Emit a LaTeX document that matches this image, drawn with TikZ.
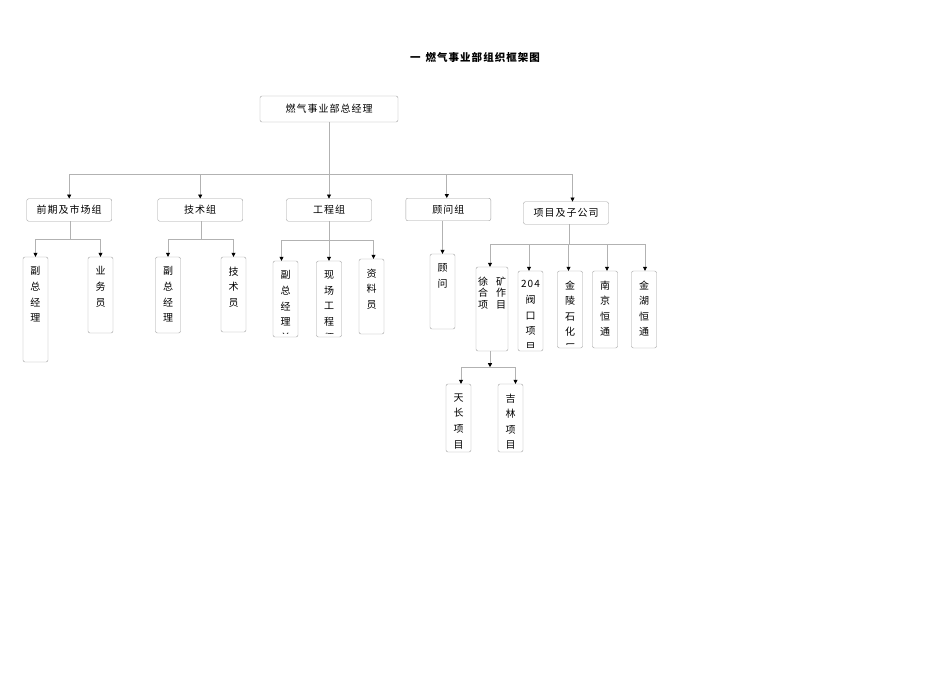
\documentclass[tikz,border=0pt]{standalone}
\usepackage{fontspec}
\setmainfont{Noto Sans CJK SC}[LetterSpace=10]
\usetikzlibrary{arrows.meta}
\tikzset{
  headbox/.style={draw=gray!75, rounded corners=2pt, minimum width=85pt,
    minimum height=22.5pt, inner sep=0pt, font=\fontsize{10}{12}\selectfont},
  colbox/.style={draw=gray!75, rounded corners=2pt, minimum width=25pt,
    inner sep=0pt},
  coltextnode/.style={draw=none, rounded corners=0pt, minimum width=0pt,
    minimum height=0pt, anchor=north, inner sep=0pt, align=center,
    font=\fontsize{10}{15.6}\selectfont},
  coltext/.style={path picture={
    \clip ([yshift=4pt]path picture bounding box.south west)
      rectangle (path picture bounding box.north east);
    \node[coltextnode] at ([yshift=-9.5pt]path picture bounding box.north) {#1};}},
  hv/.style={to path={-| (\tikztotarget)}}
}
\begin{document}
\begin{tikzpicture}[x=1pt,y=-1pt]
\useasboundingbox (0,0) rectangle (950,672);
\node[font=\fontsize{10.5}{12}\selectfont\bfseries] (title) at (475,57) {一\hspace{5pt}燃气事业部组织框架图};
\begin{scope}[every node/.style={headbox}]
    \node[minimum width=138pt, minimum height=26pt] (top) at (329,109) {燃气事业部总经理};
    \node (qq) at (69.2,210) {前期及市场组};
    \node (js) at (200.2,210) {技术组};
    \node (gc) at (329,210) {工程组};
    \node (gw) at (448.3,209.5) {顾问组};
    \node (xm) at (566,213) {项目及子公司};
\end{scope}
\begin{scope}[every node/.style={colbox}]
    \node[minimum height=105pt, coltext={副\\总\\经\\理}] (a1) at (35.5,309.5) {};
    \node[minimum height=76pt, coltext={业\\务\\员}] (a2) at (100.5,295) {};
    \node[minimum height=76pt, coltext={副\\总\\经\\理}] (b1) at (168,295) {};
    \node[minimum height=75pt, coltext={技\\术\\员}] (b2) at (233.5,294.5) {};
    \node[minimum height=76pt, coltext={副\\总\\经\\理\\兼}] (c1) at (285.5,299) {};
    \node[minimum height=76pt, coltext={现\\场\\工\\程\\师}] (c2) at (329,299) {};
    \node[minimum height=75pt, coltext={资\\料\\员}] (c3) at (371.5,296.5) {};
    \node[minimum height=75pt, coltext={顾\\问}] (d1) at (442.5,291.5) {};
    \node[minimum width=32pt, minimum height=84pt, path picture={
      \node[coltextnode, font=\fontsize{10}{11.8}\selectfont]
        at ([yshift=-9.5pt]path picture bounding box.north)
        {徐\hspace{8pt}矿\\合\hspace{8pt}作\\项\hspace{8pt}目};}] (e1) at (492,309) {};
    \node[minimum height=80pt, coltext={204\\阀\\口\\项\\目}] (e2) at (530.5,311) {};
    \node[minimum height=77pt, coltext={金\\陵\\石\\化\\厂}] (e3) at (570,309.5) {};
    \node[minimum height=77pt, coltext={南\\京\\恒\\通}] (e4) at (605,309.5) {};
    \node[minimum height=77pt, coltext={金\\湖\\恒\\通}] (e5) at (644,309.5) {};
    \node[minimum height=68pt, coltext={天\\长\\项\\目}] (f1) at (458.5,418) {};
    \node[minimum height=68pt, coltext={吉\\林\\项\\目}] (f2) at (510.5,418) {};
\end{scope}
\path (top.south) ++(0,52) coordinate (j0);
\path (qq.south) ++(0.8,17.5) coordinate (j1);
\path (js.south) ++(0.8,17.5) coordinate (j2);
\path (gc.south) ++(0,18.5) coordinate (j3);
\path ([xshift=3pt]xm.south) ++(0,20) coordinate (j5);
\path ([xshift=-2pt]e1.south) ++(0,16) coordinate (j6);
\begin{scope}[>={Triangle[black,length=4pt,width=4pt]},
              every edge/.style={draw=gray!60,line width=0.7pt}]
    % 总经理
    \path (top.south) edge (j0);
    \path [->] (j0) edge[hv] (qq.north);
    \path [->] (j0) edge[hv] (js.north);
    \path [->] (j0) edge (gc.north);
    \path [->] (j0) edge[hv] ([xshift=-1.5pt]gw.north);
    \path [->] (j0) edge[hv] ([xshift=6.5pt]xm.north);
    % 前期及市场组
    \path ([xshift=0.8pt]qq.south) edge (j1);
    \path [->] (j1) edge[hv] (a1.north);
    \path [->] (j1) edge[hv] (a2.north);
    % 技术组
    \path ([xshift=0.8pt]js.south) edge (j2);
    \path [->] (j2) edge[hv] (b1.north);
    \path [->] (j2) edge[hv] (b2.north);
    % 工程组
    \path [->] (gc.south) edge (c2.north);
    \path [->] (j3) edge[hv] ([xshift=-4pt]c1.north);
    \path [->] (j3) edge[hv] ([xshift=2pt]c3.north);
    % 顾问组
    \path [->] (d1.north |- gw.south) edge (d1.north);
    % 项目及子公司
    \path ([xshift=3pt]xm.south) edge (j5);
    \path [->] (j5) edge[hv] ([xshift=-2pt]e1.north);
    \path [->] (j5) edge[hv] ([xshift=-1.5pt]e2.north);
    \path [->] (j5) edge[hv] ([xshift=-1.5pt]e3.north);
    \path [->] (j5) edge[hv] ([xshift=2pt]e4.north);
    \path [->] (j5) edge[hv] ([xshift=1pt]e5.north);
    % 徐矿合作项目
    \path [->] ([xshift=-2pt]e1.south) edge (j6);
    \path [->] (j6) edge[hv] ([xshift=2.5pt]f1.north);
    \path [->] (j6) edge[hv] ([xshift=5pt]f2.north);
\end{scope}
\end{tikzpicture}
\end{document}
